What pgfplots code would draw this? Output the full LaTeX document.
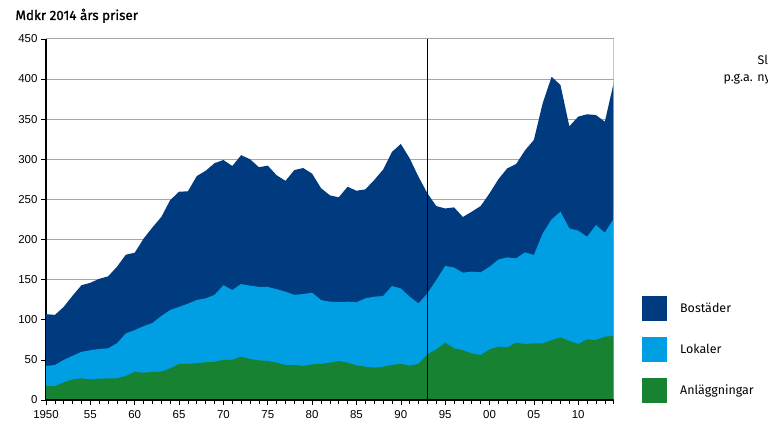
\documentclass[border=0pt]{standalone}
\usepackage{fontspec}
\usepackage{pgfplots}
\usepackage{pgfplotstable}
\pgfplotsset{compat=1.18}
\newfontfamily\ticksfont{Liberation Sans}
\newfontfamily\labfont{Fira Sans}
\newfontfamily\titlefont{Fira Sans}[FakeBold=1.2]
\definecolor{navy}{HTML}{003B7F}
\definecolor{lblue}{HTML}{009FE3}
\definecolor{dgreen}{HTML}{178232}
\definecolor{gridgray}{HTML}{A6A6A6}

% cumulative tops: total (Bostader on top), Lokaler top, Anlaggningar top
\pgfplotstableread{
year total lok anl
1950 107 42.4 17.4
1951 106 43.6 17.4
1952 116 50 22
1953 130 55 25.7
1954 143 60 27
1955 146 62 25.7
1956 151 63.5 26.6
1957 154 64.4 27
1958 166 70.6 27
1959 181 83 30
1960 183.5 87 35
1961 201 92 34
1962 215 96 35
1963 228 104.6 35.3
1964 249 112 39.4
1965 259.5 116 45
1966 260 120 45
1967 279 124.6 46
1968 285.6 126.6 47
1969 295 131 47.7
1970 299 143 50
1971 291.5 137 50
1972 305 144.5 54
1973 300 142.4 51
1974 290 141 49.4
1975 292 141 48.6
1976 280 138 46.5
1977 273 135 43.6
1978 286.5 131 43.6
1979 289 132 42.4
1980 282 133.7 44.4
1981 264 124.6 45
1982 255 122.5 46.5
1983 252.5 122 48.6
1984 265.7 122.5 46.5
1985 260.7 121.7 43.2
1986 262.4 126.6 41.5
1987 274 128.7 40.3
1988 287 129.5 41.5
1989 309 142 43.6
1990 319 139 45
1991 301 128.7 42.8
1992 278 120.4 45
1993 257.4 132.9 57
1994 241.6 149.5 63
1995 238.6 167 71.4
1996 240 165 64.4
1997 228 158.6 62
1998 234.6 160 58
1999 241.6 159 56
2000 257.4 166 63
2001 275 175 66.4
2002 288.6 177.7 65.6
2003 294 176.5 71.4
2004 311 184 69.8
2005 324 180.6 70.6
2006 370 207.6 70.6
2007 402.7 225 74.7
2008 392.4 234.6 78
2009 341 213.8 73.5
2010 353 211 69.8
2011 356 203.4 75.6
2012 355 218 74.7
2013 346.7 208.4 78.9
2014 395 226 79.7
}\datatable

\begin{document}
\begin{tikzpicture}[x=1bp,y=1bp]
\begin{axis}[
  at={(46bp,34bp)}, anchor=south west,
  scale only axis, width=567.7bp, height=361.2bp,
  xmin=1950, xmax=2014, ymin=0, ymax=450,
  axis x line*=bottom, axis y line*=left,
  axis line style={black, line width=1.2bp},
  xtick={1950,1955,...,2010},
  xticklabels={1950,55,60,65,70,75,80,85,90,95,00,05,10},
  minor xtick={1950,1951,...,2014},
  ytick={0,50,...,450},
  tick align=outside,
  major tick length=5bp, minor tick length=4bp,
  every tick/.style={black, line width=0.6bp},
  ymajorgrids,
  major grid style={gridgray, line width=0.8bp},
  /pgf/number format/assume math mode=true,
  ticklabel style={font=\ticksfont\fontsize{11.5}{13}\selectfont},
  xticklabel style={yshift=-2bp},
  legend style={at={(1.0498,0.288)}, anchor=north west, draw=none, fill=none,
    inner sep=0pt, row sep=16bp, nodes={inner sep=0pt},
    font=\labfont\fontsize{12.5}{14}\selectfont,
    /tikz/every odd column/.append style={column sep=13bp},
    cells={anchor=west}},
  legend image code/.code={\fill[#1] (0bp,-12.5bp) rectangle (25bp,12.5bp);},
]
\addplot[fill=navy, draw=none] table[x=year,y=total]{\datatable} \closedcycle;
\addlegendentry{Bostäder}
\addplot[fill=lblue, draw=none] table[x=year,y=lok]{\datatable} \closedcycle;
\addlegendentry{Lokaler}
\addplot[fill=dgreen, draw=none] table[x=year,y=anl]{\datatable} \closedcycle;
\addlegendentry{Anläggningar}
\addplot[black, line width=1bp, forget plot] coordinates {(1993,0) (1993,450)};
\draw[gridgray, line width=0.8bp] (rel axis cs:1,0) -- (rel axis cs:1,1);
\draw[black, line width=1.2bp] (rel axis cs:0,0) -- (rel axis cs:1,0);
\end{axis}
\node[anchor=base west, font=\titlefont\fontsize{13.5}{15}\selectfont] at (12bp,414bp) {Mdkr 2014 års priser};
\node[anchor=base west, font=\labfont\fontsize{12.5}{14}\selectfont] at (754bp,369bp) {Slut på serie};
\node[anchor=base west, font=\labfont\fontsize{12.5}{14}\selectfont] at (720bp,352bp) {p.g.a. ny statistik};
\pgfresetboundingbox
\useasboundingbox (0,0) rectangle (768bp,434bp);
\end{tikzpicture}
\end{document}
